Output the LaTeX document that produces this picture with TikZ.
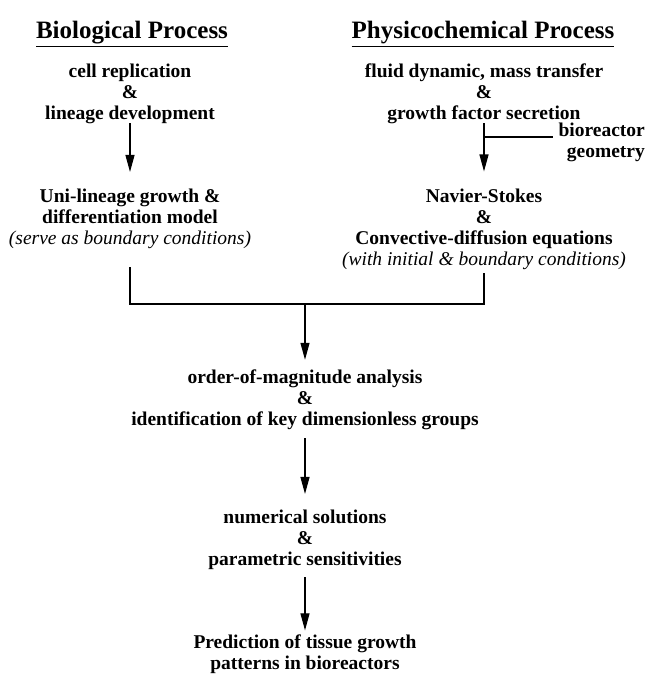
\documentclass[tikz,border=0pt]{standalone}
\usepackage{fontspec}
\setmainfont{Liberation Serif}
\usetikzlibrary{arrows.meta}

\begin{document}
\begin{tikzpicture}[x=1pt, y=-1pt,
  txt/.style={align=center, inner sep=0pt, font=\fontsize{19.5}{21}\selectfont\bfseries},
  ttl/.style={inner sep=0pt, font=\fontsize{25}{28}\selectfont\bfseries},
  arr/.style={-{Triangle[length=17pt,width=9pt]}, line width=1.2pt},
  lin/.style={line width=1.2pt}]

\useasboundingbox (0,0) rectangle (650,675);

\node[ttl] (biottl) at (132,34) {\underline{Biological Process}};
\node[ttl] (physttl) at (483,34) {\underline{Physicochemical Process}};

\node[txt] (bio) at (130,94) {cell replication\\\&\\lineage development};
\node[txt] (phys) at (484,94) {fluid dynamic, mass transfer\\\&\\growth factor secretion};

\node[txt, align=right, anchor=east] (geo) at (645,142) {bioreactor\\geometry};

\node[txt] (uni) at (130,219) {Uni-lineage growth \&\\differentiation model\\{\mdseries\itshape (serve as boundary conditions)}};
\node[txt] (nav) at (484,229) {Navier-Stokes\\\&\\Convective-diffusion equations\\{\mdseries\itshape (with initial \& boundary conditions)}};

\node[txt] (ord) at (305,400) {order-of-magnitude analysis\\\&\\identification of key dimensionless groups};
\node[txt] (num) at (305,540) {numerical solutions\\\&\\parametric sensitivities};
\node[txt] (pred) at (305,654) {Prediction of tissue growth\\patterns in bioreactors};

\coordinate (geojoin) at (484,137);
\coordinate (merge) at (305,304);

\draw[arr, shorten <=-1pt, shorten >=17pt] (bio) -- (uni);
\draw[arr, shorten <=-1pt, shorten >=17pt] (phys) -- (nav);
\draw[lin, shorten >=5pt] (geojoin) -- (geojoin -| geo.west);

\draw[lin, shorten <=18pt, shorten >=3pt] (uni.south) |- (merge) -| (nav.south);
\draw[arr, shorten >=10pt] (merge) -- (ord);
\draw[arr, shorten <=8pt, shorten >=16pt] (ord) -- (num);
\draw[arr, shorten <=7pt, shorten >=4pt] (num) -- (pred);

\end{tikzpicture}
\end{document}
